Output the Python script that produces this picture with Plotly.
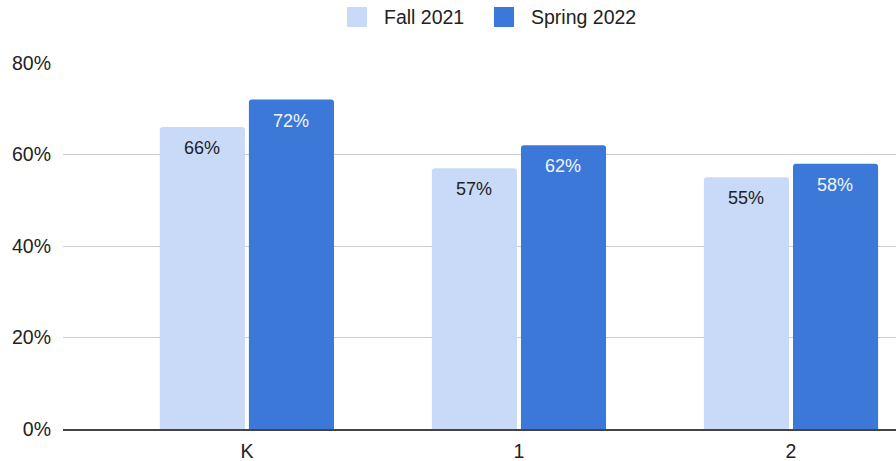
import plotly.graph_objects as go

categories = ["K", "1", "2"]
fall_2021 = [0.66, 0.57, 0.55]
spring_2022 = [0.72, 0.62, 0.58]
series_names = ["Fall 2021", "Spring 2022"]
y_ticks = [0, 0.2, 0.4, 0.6, 0.8]
y_tick_labels = ["0%", "20%", "40%", "60%", "80%"]

font = "Arial, Liberation Sans, sans-serif"
light = "#c9daf8"
dark = "#3c78d8"
W, H = 896, 461
L, R, T, B = 63, 0, 63, 32
pw, ph = W - L - R, H - T - B

fig = go.Figure()
fig.add_trace(go.Bar(x=categories, y=fall_2021, name=series_names[0], showlegend=False,
                     marker=dict(color=light, cornerradius=3, line=dict(width=0))))
fig.add_trace(go.Bar(x=categories, y=spring_2022, name=series_names[1], showlegend=False,
                     marker=dict(color=dark, cornerradius=3, line=dict(width=0))))

annotations = []
for series, shift, col in [(fall_2021, -44.5, "#222222"), (spring_2022, 44.5, "#f2f5fc")]:
    for c, v in zip(categories, series):
        annotations.append(dict(x=c, y=v, xref="x", yref="y", text=f"{round(v*100)}%",
                                showarrow=False, xshift=shift, yshift=-21,
                                font=dict(family=font, size=18, color=col)))

# manual legend (pixel layout -> paper coords)
def px(x):
    return (x - L) / pw
def py(y):
    return (H - B - y) / ph

shapes = []
legend_boxes = [(347, light), (494, dark)]
for (bx, col), name in zip(legend_boxes, series_names):
    shapes.append(dict(type="rect", xref="paper", yref="paper",
                       x0=px(bx), x1=px(bx + 20), y0=py(27), y1=py(7),
                       fillcolor=col, line=dict(width=0)))
    annotations.append(dict(x=px(bx + 35), y=py(17), xref="paper", yref="paper",
                            text=name, showarrow=False, xanchor="left", yanchor="middle",
                            font=dict(family=font, size=19.5, color="#222222")))

fig.update_layout(
    width=W, height=H,
    margin=dict(l=L, r=R, t=T, b=B),
    paper_bgcolor="white", plot_bgcolor="white",
    barmode="group", bargap=0.345, bargroupgap=0.045,
    font=dict(family=font, size=19.5, color="#222222"),
    showlegend=False,
    annotations=annotations,
    shapes=shapes,
    xaxis=dict(range=[-0.676, 2.386], showgrid=False, showline=True, linecolor="#444444",
               linewidth=1.5, ticks="", ticklabelstandoff=4,
               tickfont=dict(size=19.5, color="#222222")),
    yaxis=dict(range=[0, 0.8], tickvals=y_ticks, ticktext=y_tick_labels,
               showgrid=True, gridcolor="#cccccc", gridwidth=1, zeroline=False,
               ticks="", ticklen=0, ticklabelstandoff=11,
               tickfont=dict(size=19.5, color="#222222")),
)
fig.write_html("out.html", config={"displayModeBar": False},
               post_script="document.body.style.margin='0';document.body.style.overflow='hidden';")
